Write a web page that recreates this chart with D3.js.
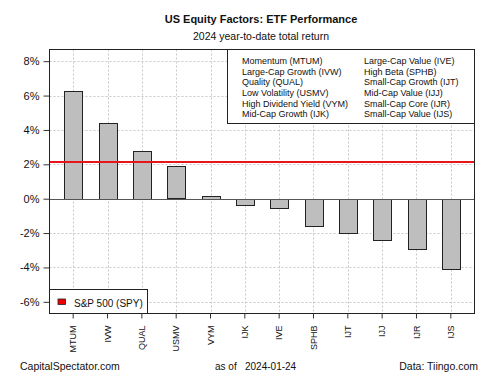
<!DOCTYPE html>
<html>
<head>
<meta charset="utf-8">
<script src="https://cdn.jsdelivr.net/npm/d3@7"></script>
<style>
  body { margin: 0; background: #fff; }
  svg text { font-family: "Liberation Sans", Arial, sans-serif; fill: #111; }
</style>
</head>
<body>
<div id="chart"></div>
<script>
const tickers = ["MTUM", "IVW", "QUAL", "USMV", "VYM", "IJK", "IVE", "SPHB", "IJT", "IJJ", "IJR", "IJS"];
const returns = [6.29, 4.43, 2.80, 1.88, 0.17, -0.33, -0.55, -1.55, -1.98, -2.39, -2.93, -4.10];
const spyReturn = 2.13;
const yTicks = [-6, -4, -2, 0, 2, 4, 6, 8];
const legendLeft = ["Momentum (MTUM)", "Large-Cap Growth (IVW)", "Quality (QUAL)", "Low Volatility (USMV)", "High Dividend Yield (VYM)", "Mid-Cap Growth (IJK)"];
const legendRight = ["Large-Cap Value (IVE)", "High Beta (SPHB)", "Small-Cap Growth (IJT)", "Mid-Cap Value (IJJ)", "Small-Cap Core (IJR)", "Small-Cap Value (IJS)"];

const width = 500, height = 375;
const plot = { left: 49.5, right: 474.5, top: 49.5, bottom: 313.5 };

const svg = d3.select("#chart").append("svg")
  .attr("width", width).attr("height", height);

const x = d3.scaleBand()
  .domain(tickers)
  .range([plot.left, plot.right])
  .paddingInner(0.48)
  .paddingOuter(0.43);

const y = d3.scaleLinear()
  .domain([-6.68, 8.68])
  .range([plot.bottom, plot.top]);

// grid
svg.append("g").selectAll("line.h")
  .data(yTicks)
  .join("line")
  .attr("x1", plot.left).attr("x2", plot.right)
  .attr("y1", d => Math.round(y(d)) + 0.5).attr("y2", d => Math.round(y(d)) + 0.5)
  .attr("stroke", "#c8c8c8").attr("stroke-dasharray", "2,2");

svg.append("g").selectAll("line.v")
  .data(tickers)
  .join("line")
  .attr("x1", d => Math.round(x(d) + x.bandwidth() / 2) + 0.5)
  .attr("x2", d => Math.round(x(d) + x.bandwidth() / 2) + 0.5)
  .attr("y1", plot.top).attr("y2", plot.bottom)
  .attr("stroke", "#c8c8c8").attr("stroke-dasharray", "2,2");

// bars
svg.append("g").selectAll("rect")
  .data(tickers)
  .join("rect")
  .attr("x", d => Math.round(x(d)) + 0.5)
  .attr("width", Math.round(x.bandwidth()))
  .attr("y", (d, i) => Math.round(y(Math.max(0, returns[i]))) + 0.5)
  .attr("height", (d, i) => Math.round(Math.abs(y(returns[i]) - y(0))))
  .attr("fill", "#bebebe")
  .attr("stroke", "#222")
  .attr("stroke-width", 1);

// zero line
svg.append("line")
  .attr("x1", plot.left).attr("x2", plot.right)
  .attr("y1", Math.round(y(0)) + 0.5).attr("y2", Math.round(y(0)) + 0.5)
  .attr("stroke", "#555").attr("stroke-width", 1);

// S&P 500 line
svg.append("line")
  .attr("x1", plot.left).attr("x2", plot.right)
  .attr("y1", y(spyReturn)).attr("y2", y(spyReturn))
  .attr("stroke", "#e8151b").attr("stroke-width", 2);

// y axis
const yAxis = svg.append("g")
  .attr("transform", `translate(${plot.left},0)`)
  .call(d3.axisLeft(y).tickValues(yTicks).tickSize(6).tickPadding(4).tickFormat(d => d + "%"));
yAxis.select(".domain").remove();
yAxis.selectAll(".tick line").attr("stroke", "#333");
yAxis.selectAll("text").style("font-size", "11px").attr("fill", "#222");

// x axis
const xAxis = svg.append("g")
  .attr("transform", `translate(0,${plot.bottom})`)
  .call(d3.axisBottom(x).tickSize(5).tickPadding(6));
xAxis.select(".domain").remove();
xAxis.selectAll(".tick line").attr("stroke", "#333");
xAxis.selectAll("text")
  .style("font-size", "9px")
  .attr("fill", "#222")
  .attr("transform", "rotate(-90)")
  .attr("text-anchor", "end")
  .attr("x", 0).attr("y", 0)
  .attr("dx", -12).attr("dy", "0.35em");

// top-right legend
const lg = svg.append("g");
lg.append("rect")
  .attr("x", 227.5).attr("y", plot.top)
  .attr("width", plot.right - 227.5).attr("height", 74)
  .attr("fill", "#fff").attr("stroke", "#222");
lg.selectAll("text.l")
  .data(legendLeft)
  .join("text")
  .attr("x", 242).attr("y", (d, i) => 61 + i * 10.6)
  .attr("dy", "0.35em")
  .style("font-size", "9px")
  .text(d => d);
lg.selectAll("text.r")
  .data(legendRight)
  .join("text")
  .attr("x", 364).attr("y", (d, i) => 61 + i * 10.6)
  .attr("dy", "0.35em")
  .style("font-size", "9px")
  .text(d => d);

// bottom-left legend
const bl = svg.append("g");
bl.append("rect")
  .attr("x", plot.left).attr("y", 289.5)
  .attr("width", 98).attr("height", plot.bottom - 289.5)
  .attr("fill", "#fff").attr("stroke", "#222");
bl.append("rect")
  .attr("x", 58).attr("y", 299)
  .attr("width", 7.5).attr("height", 5.5)
  .attr("fill", "#ee0000").attr("stroke", "#222").attr("stroke-width", 0.8);
bl.append("text")
  .attr("x", 74).attr("y", 303)
  .attr("dy", "0.35em")
  .style("font-size", "10px")
  .text("S&P 500 (SPY)");

// plot box
svg.append("rect")
  .attr("x", plot.left).attr("y", plot.top)
  .attr("width", plot.right - plot.left).attr("height", plot.bottom - plot.top)
  .attr("fill", "none").attr("stroke", "#222");

// titles
svg.append("text")
  .attr("x", 261).attr("y", 19.5).attr("dy", "0.35em")
  .attr("text-anchor", "middle")
  .style("font-size", "11px").style("font-weight", "bold")
  .text("US Equity Factors: ETF Performance");
svg.append("text")
  .attr("x", 261).attr("y", 36.5).attr("dy", "0.35em")
  .attr("text-anchor", "middle")
  .style("font-size", "10.5px")
  .text("2024 year-to-date total return");

// footer
svg.append("text")
  .attr("x", 20).attr("y", 366.5).attr("dy", "0.35em")
  .style("font-size", "10.5px")
  .text("CapitalSpectator.com");
svg.append("text")
  .attr("x", 215).attr("y", 366.5).attr("dy", "0.35em")
  .style("font-size", "10px")
  .text("as of");
svg.append("text")
  .attr("x", 245).attr("y", 366.5).attr("dy", "0.35em")
  .style("font-size", "10px")
  .text("2024-01-24");
svg.append("text")
  .attr("x", 478).attr("y", 366.5).attr("dy", "0.35em")
  .attr("text-anchor", "end")
  .style("font-size", "10.5px")
  .text("Data: Tiingo.com");
</script>
</body>
</html>
